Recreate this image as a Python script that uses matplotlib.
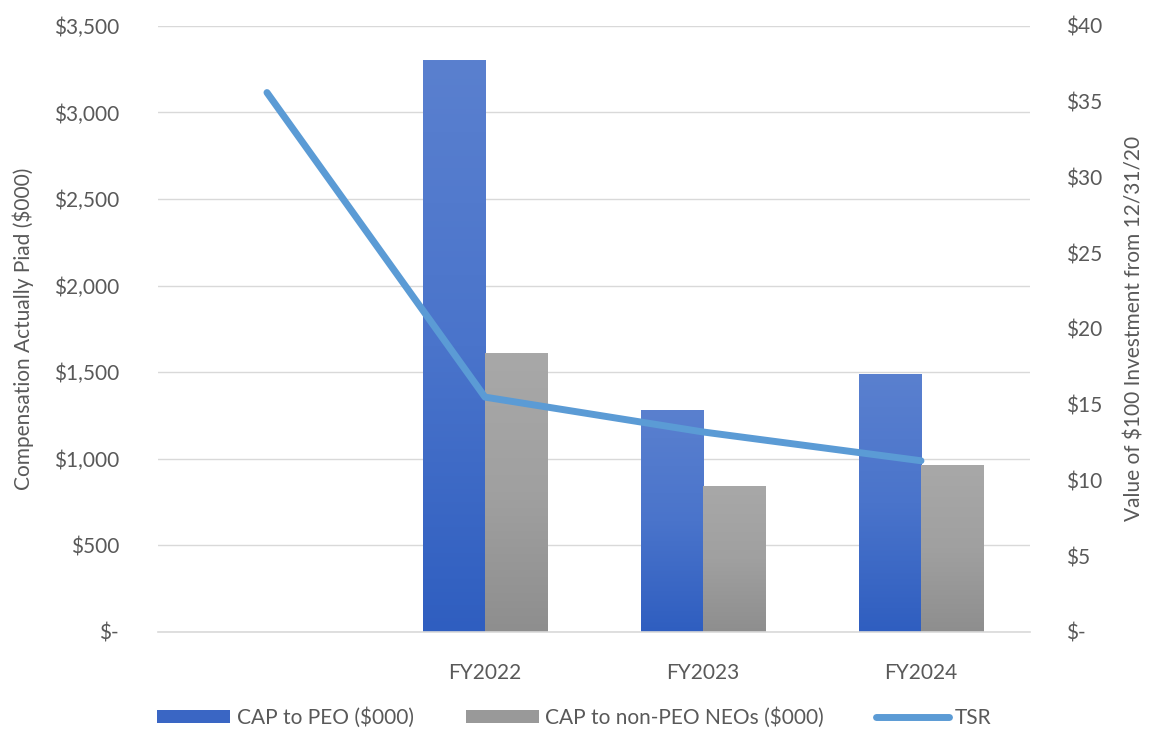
import numpy as np
import matplotlib
matplotlib.use("Agg")
from matplotlib import pyplot as plt
from matplotlib.colors import LinearSegmentedColormap
from matplotlib.patches import Patch
from matplotlib.lines import Line2D
from matplotlib.ticker import FuncFormatter

plt.rcParams['font.family'] = ['Lato', 'DejaVu Sans']

# Data
years = ["", "FY2022", "FY2023", "FY2024"]
cap_peo = [0, 3300, 1280, 1485]
cap_neo = [0, 1610, 840, 960]
tsr = [35.6, 15.5, 13.2, 11.3]

text_color = "#595959"
fs = 15
blue_cmap = LinearSegmentedColormap.from_list("b", ["#2F5EC0", "#4A74CB", "#5A80CF"])
gray_cmap = LinearSegmentedColormap.from_list("g", ["#8E8E8E", "#A0A0A0", "#A8A8A8"])

fig = plt.figure(figsize=(11.49, 7.4), dpi=100)
ax = fig.add_axes([0.1375, 0.146, 0.7589, 0.819])
ax2 = ax.twinx()

x = np.arange(len(years))
w = 0.285
grad = np.linspace(0, 1, 256).reshape(-1, 1)


def gradient_bars(xs, heights, cmap):
    for xi, h in zip(xs, heights):
        if h <= 0:
            continue
        ax.imshow(grad, extent=[xi - w / 2, xi + w / 2, 0, h], origin="lower",
                  aspect="auto", cmap=cmap, zorder=2)


gradient_bars(x - w / 2, cap_peo, blue_cmap)
gradient_bars(x + w / 2, cap_neo, gray_cmap)

ax.set_xlim(-0.5, len(years) - 0.5)
ax.set_ylim(0, 3500)
ax.set_yticks(np.arange(0, 3501, 500))
ax.yaxis.set_major_formatter(FuncFormatter(lambda v, p: "$-" if v == 0 else f"${v:,.0f}"))
ax.set_xticks(x)
ax.set_xticklabels(years)
ax.grid(axis="y", color="#D9D9D9", linewidth=1, zorder=0)
ax.set_axisbelow(True)
for s in ["top", "right", "left"]:
    ax.spines[s].set_visible(False)
ax.spines["bottom"].set_color("#D9D9D9")
ax.spines["bottom"].set_linewidth(1.2)
ax.tick_params(axis="both", length=0, labelsize=fs, colors=text_color)
ax.tick_params(axis="x", pad=22)
ax.tick_params(axis="y", pad=28)
ax.set_ylabel("Compensation Actually Piad ($000)", fontsize=fs, color=text_color, labelpad=14)

ax2.plot(x, tsr, color="#5B9BD5", linewidth=5, solid_capstyle="round", zorder=5)
ax2.set_ylim(0, 40)
ax2.set_yticks(np.arange(0, 41, 5))
ax2.yaxis.set_major_formatter(FuncFormatter(lambda v, p: "$-" if v == 0 else f"${v:.0f}"))
for s in ["top", "right", "left", "bottom"]:
    ax2.spines[s].set_visible(False)
ax2.tick_params(axis="y", length=0, labelsize=fs, colors=text_color, pad=26)
ax2.set_ylabel("Value of $100 Investment from 12/31/20", fontsize=fs, color=text_color, labelpad=16)

handles = [
    Patch(facecolor="#3A66C4", label="CAP to PEO ($000)"),
    Patch(facecolor="#999999", label="CAP to non-PEO NEOs ($000)"),
    Line2D([0], [0], color="#5B9BD5", linewidth=5, solid_capstyle="round", label="TSR"),
]
leg = fig.legend(handles=handles, loc="center", bbox_to_anchor=(0.5, 0.03), ncol=3,
                 frameon=False, fontsize=fs, handlelength=3.5, handleheight=0.55,
                 columnspacing=2.5, handletextpad=0.3)
for t in leg.get_texts():
    t.set_color(text_color)

fig.savefig("out.png", dpi=100)
